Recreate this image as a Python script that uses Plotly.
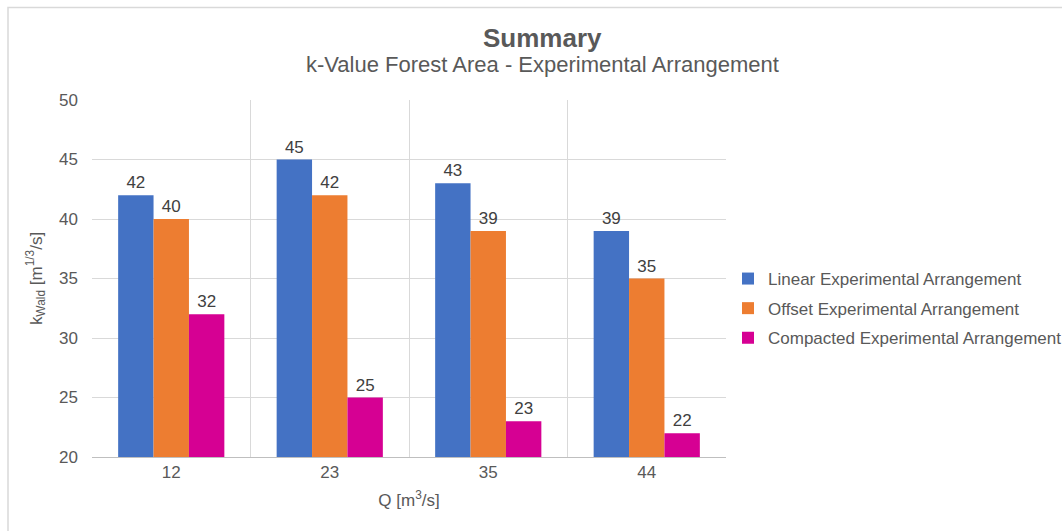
import plotly.graph_objects as go

# Discharge categories and k-values for each arrangement
discharge = ["12", "23", "35", "44"]
linear = [42, 45, 43, 39]
offset = [40, 42, 39, 35]
compacted = [32, 25, 23, 22]

series_names = [
    "Linear Experimental Arrangement",
    "Offset Experimental Arrangement",
    "Compacted Experimental Arrangement",
]
series_colors = ["#4472C4", "#ED7D31", "#D60093"]

W, H = 1062, 531
ML, MR, MT, MB = 92, 336, 100, 74
PW = W - ML - MR
PH = H - MT - MB

FONT = "Liberation Sans, Arial, sans-serif"
GRID = "#D9D9D9"
TEXT = "#595959"

xpos = list(range(len(discharge)))

fig = go.Figure()
for i, (name, vals, col) in enumerate(zip(series_names, [linear, offset, compacted], series_colors)):
    fig.add_trace(go.Bar(
        x=xpos, y=vals, name=name, legendgroup=f"g{i}",
        marker=dict(color=col, line=dict(width=0)),
        text=vals, textposition="outside", texttemplate="%{y}",
        textfont=dict(family=FONT, size=17, color="#404040"),
        cliponaxis=False,
    ))

def px_x(p):
    return (p - ML) / PW

def px_y(p):
    return (H - MB - p) / PH

fig.update_layout(
    width=W, height=H,
    margin=dict(l=ML, r=MR, t=MT, b=MB, autoexpand=False),
    paper_bgcolor="white", plot_bgcolor="white",
    barmode="group", bargap=0.33, bargroupgap=0,
    font=dict(family=FONT, color=TEXT, size=16),
    showlegend=True,
    legend=dict(
        x=px_x(728), y=px_y(261), xanchor="left", yanchor="top",
        font=dict(family=FONT, size=17, color=TEXT),
        itemwidth=30, traceorder="grouped", tracegroupgap=4.5,
        bgcolor="rgba(0,0,0,0)",
    ),
    xaxis=dict(
        range=[-0.5, len(discharge) - 0.5],
        tickmode="array", tickvals=xpos, ticktext=discharge,
        showgrid=False, ticks="", zeroline=False,
        showline=True, linecolor="#BFBFBF", linewidth=1,
        tickfont=dict(family=FONT, size=17, color=TEXT),
        title=dict(text="Q [m<sup>3</sup>/s]", font=dict(family=FONT, size=17, color=TEXT), standoff=12),
        minor=dict(
            tickmode="array",
            tickvals=[i - 0.5 for i in range(len(discharge) + 1)],
            showgrid=True, gridcolor=GRID, gridwidth=1, ticks="",
        ),
    ),
    yaxis=dict(
        range=[20, 50], dtick=5, tick0=20,
        showgrid=True, gridcolor=GRID, gridwidth=1,
        zeroline=False, showline=False, ticks="",
        tickfont=dict(family=FONT, size=17, color=TEXT),
        ticklabelstandoff=13,
        title=dict(text="k<sub>Wald</sub> [m<sup>1/3</sup>/s]", font=dict(family=FONT, size=17, color=TEXT), standoff=12),
    ),
    shapes=[
        dict(type="rect", xref="paper", yref="paper",
             x0=px_x(8), x1=px_x(1075), y0=px_y(545), y1=px_y(7.5),
             line=dict(color="#D9D9D9", width=1.5), fillcolor="rgba(0,0,0,0)", layer="below"),
    ],
    annotations=[
        dict(text="<b>Summary</b>", xref="paper", yref="paper",
             x=px_x(542), y=px_y(38), xanchor="center", yanchor="middle",
             showarrow=False, font=dict(family=FONT, size=26, color=TEXT)),
        dict(text="k-Value Forest Area - Experimental Arrangement", xref="paper", yref="paper",
             x=px_x(542), y=px_y(65), xanchor="center", yanchor="middle",
             showarrow=False, font=dict(family=FONT, size=22, color=TEXT)),
    ],
)

fig.write_html("out.html")
